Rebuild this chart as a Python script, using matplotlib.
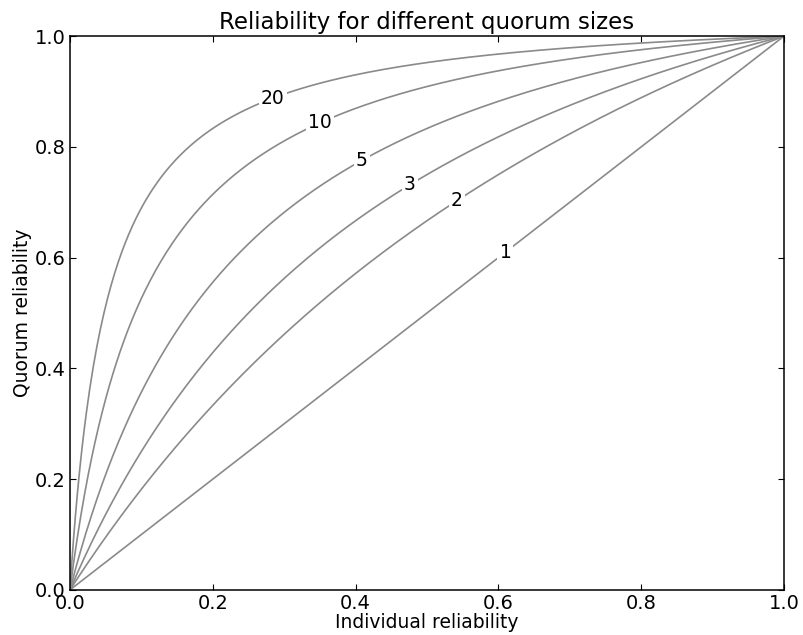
import matplotlib.pyplot as plt
import numpy as np

# quorum sizes and where each curve gets its label
sizes = [1, 2, 3, 5, 10, 20]
label_x = [0.61, 0.542, 0.476, 0.409, 0.35, 0.284]

p = np.linspace(0, 1, 400)


def quorum(p, n):
    return n * p / (1 + (n - 1) * p)


fig = plt.figure(figsize=(8.04, 6.35), dpi=100)
ax = fig.add_axes([0.087, 0.071, 0.888, 0.872])

for n, lx in zip(sizes, label_x):
    ax.plot(p, quorum(p, n), color="#8a8a8a", lw=1.2)
    ax.text(lx, quorum(lx, n), str(n), fontsize=13.5, ha="center", va="center",
            bbox=dict(facecolor="white", edgecolor="none", pad=1.5))

ax.set_xlim(0, 1)
ax.set_ylim(0, 1)
ax.set_xticks(np.arange(0, 1.01, 0.2))
ax.set_yticks(np.arange(0, 1.01, 0.2))
ax.tick_params(direction="in", top=True, right=True, length=4, labelsize=14, pad=3)
for s in ax.spines.values():
    s.set_linewidth(1.1)
ax.set_xlabel("Individual reliability", fontsize=13.5, labelpad=0)
ax.set_ylabel("Quorum reliability", fontsize=13.5, labelpad=2)
ax.set_title("Reliability for different quorum sizes", fontsize=16.5, pad=5)

fig.savefig("out.png")
